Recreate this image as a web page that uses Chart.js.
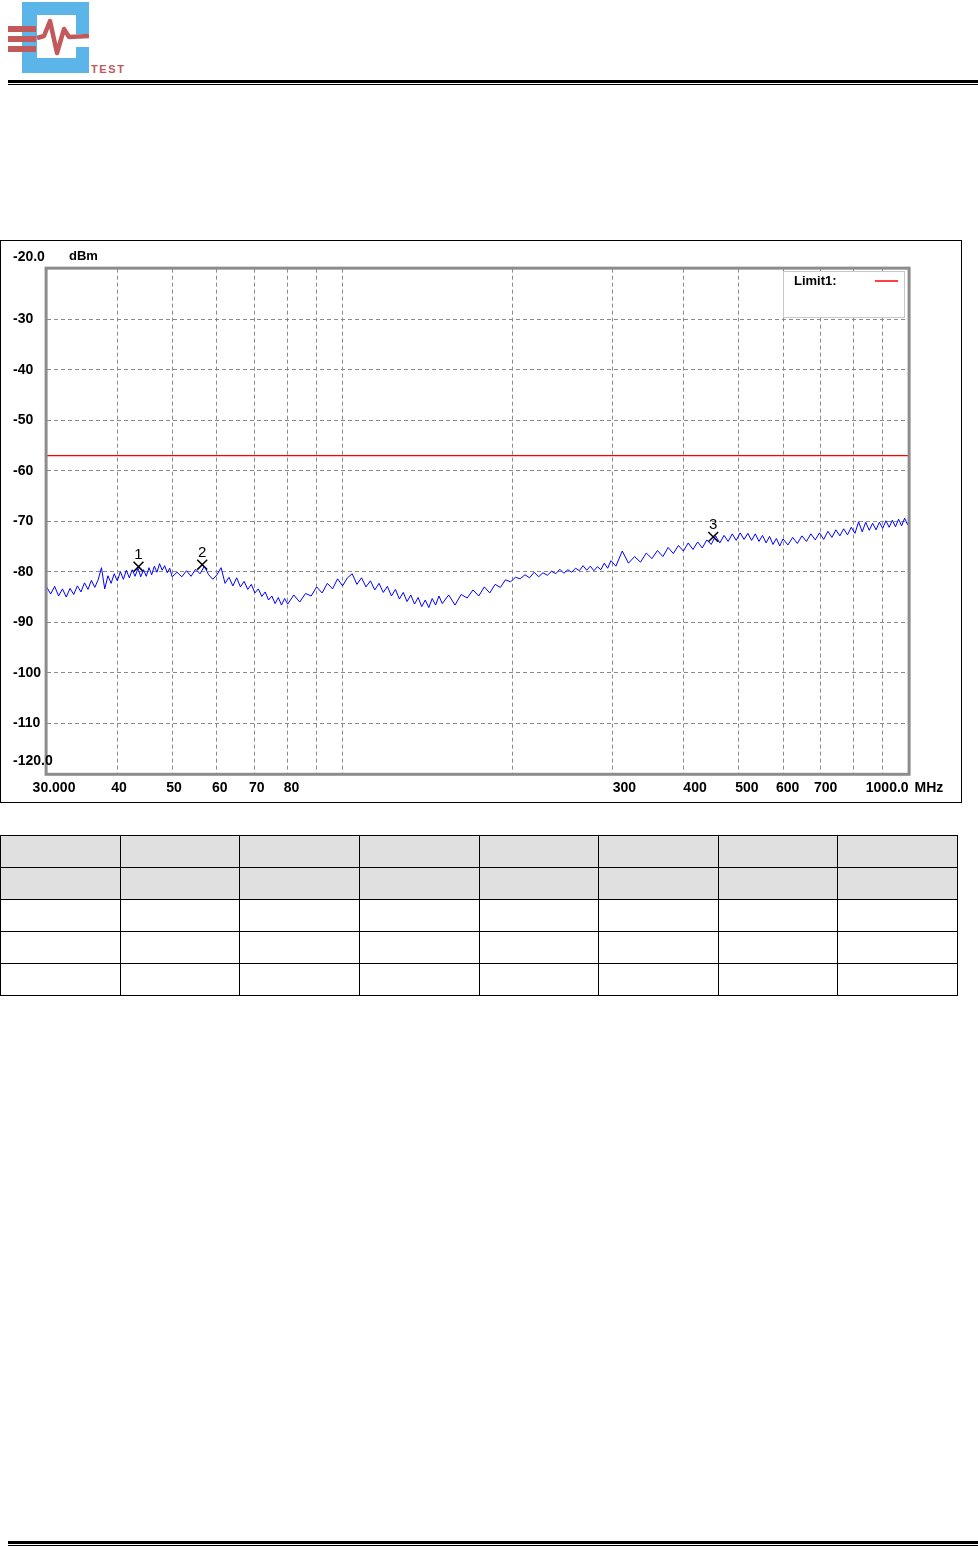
<!DOCTYPE html>
<html>
<head>
<meta charset="utf-8">
<script src="https://cdn.jsdelivr.net/npm/chart.js@4.4.0/dist/chart.umd.min.js"></script>
<style>
  body { margin: 0; width: 978px; height: 1547px; position: relative; background: #fff; overflow: hidden; font-family: "Liberation Sans", Arial, sans-serif; }
  .logo { position: absolute; left: 0; top: 0; }
  .rule { position: absolute; left: 8px; right: 0; background: #000; }
  .chart-box { position: absolute; left: 0; top: 240px; width: 962px; height: 563px; border: 1px solid #000; box-sizing: border-box; }
  .chart-box canvas { position: absolute; left: 0; top: 0; }
  table.result { position: absolute; left: 0; top: 835px; width: 958px; border-collapse: collapse; table-layout: fixed; }
  table.result td { border: 1px solid #000; height: 31px; padding: 0; }
  table.result tr.head td { background: #e0e0e0; }
</style>
</head>
<body>
<svg class="logo" width="140" height="80" viewBox="0 0 140 80">
  <path fill="#5bb5e8" d="M22 2 H89 V34 H76 V15 H37 V58 H76 V47 H89 V73 H22 Z"/>
  <rect x="8" y="26" width="28" height="6" fill="#c25a5c"/>
  <rect x="8" y="36" width="28" height="6" fill="#c25a5c"/>
  <rect x="8" y="46" width="28" height="6" fill="#c25a5c"/>
  <polyline points="37,38 44,36 50,21 57,53 64,29 69,37 89,36" fill="none" stroke="#c25a5c" stroke-width="4.5" stroke-linejoin="round"/>
  <text x="91" y="73" fill="#c25a5c" font-family="Liberation Sans, Arial" font-weight="bold" font-size="11" letter-spacing="1.6">TEST</text>
</svg>
<div class="rule" style="top:80px;height:3px"></div>
<div class="rule" style="top:84px;height:1px"></div>

<div class="chart-box">
  <canvas id="spectrum" width="960" height="561"></canvas>
</div>

<table class="result">
  <tr class="head"><td></td><td></td><td></td><td></td><td></td><td></td><td></td><td></td></tr>
  <tr class="head"><td></td><td></td><td></td><td></td><td></td><td></td><td></td><td></td></tr>
  <tr><td></td><td></td><td></td><td></td><td></td><td></td><td></td><td></td></tr>
  <tr><td></td><td></td><td></td><td></td><td></td><td></td><td></td><td></td></tr>
  <tr><td></td><td></td><td></td><td></td><td></td><td></td><td></td><td></td></tr>
</table>

<div class="rule" style="top:1541px;height:3px"></div>
<div class="rule" style="top:1545px;height:1px"></div>

<script>
// Частоты развертки, МГц
const freqMHz = [
  30, 30.5, 31, 31.5, 32, 32.5, 33, 33.5, 34, 34.5, 35, 35.5, 36, 36.5, 37, 37.5, 38, 38.5, 39, 39.5,
  40, 40.5, 41, 41.5, 42, 42.5, 43, 43.5, 44, 44.5, 45, 45.5, 46, 46.5, 47, 47.5, 48, 48.5, 49, 49.5, 50,
  51, 52, 53, 54, 55, 56, 57, 58, 59, 60, 61, 62, 63, 64, 65, 66, 67, 68, 69, 70,
  71, 72, 73, 74, 75, 76, 77, 78, 79, 80,
  82, 84, 86, 88, 90, 92, 94, 96, 98, 100, 102, 104, 106, 108, 110, 112, 114, 116, 118, 120,
  122, 124, 126, 128, 130, 132, 134, 136, 138, 140, 142, 144, 146, 148, 150,
  154, 158, 162, 166, 170, 174, 178, 182, 186, 190, 194, 198, 202, 206, 210, 214, 218, 222, 226, 230,
  234, 238, 242, 246, 250, 254, 258, 262, 266, 270, 274, 278, 282, 286, 290, 294, 298,
  304, 312, 320, 328, 336, 344, 352, 360, 368, 376, 384, 392, 400, 408, 416, 424, 432, 440, 448, 456,
  464, 472, 480, 488, 496, 504, 512, 520, 528, 536, 544, 552, 560, 568, 576, 584, 592, 600,
  612, 624, 636, 648, 660, 672, 684, 696, 708, 720, 732, 744, 756, 768, 780, 792, 804, 816, 828, 840,
  852, 864, 876, 888, 900, 912, 924, 936, 948, 960, 972, 984, 996, 1000
];

// Уровень сигнала, дБм
const levelDbm = [
  -83.0, -84.4, -82.9, -84.8, -83.4, -85.0, -83.3, -84.5, -82.8, -84.0, -82.2, -83.5, -81.7, -83.1, -81.6, -79.2, -83.4, -80.8, -82.3, -80.4,
  -81.8, -80.0, -81.5, -79.7, -81.2, -79.6, -80.9, -79.3, -81.0, -79.6, -80.9, -79.2, -80.6, -78.9, -80.1, -78.4, -79.7, -78.8, -80.2, -79.3, -81.0,
  -80.1, -81.0, -79.8, -80.9, -79.5, -80.4, -78.9, -80.6, -81.5, -80.6, -79.2, -82.3, -81.1, -82.8, -81.2, -83.0, -81.9, -83.5, -82.5, -84.2,
  -83.4, -84.9, -84.0, -85.6, -84.8, -86.3, -85.1, -86.6, -85.3, -86.4,
  -84.6, -86.0, -84.3, -84.8, -83.0, -84.2, -82.3, -83.4, -81.4, -82.8, -81.2, -80.4, -82.5, -81.2, -83.0, -81.8, -83.6, -82.3, -84.1, -82.9,
  -84.8, -83.5, -85.4, -84.1, -85.9, -84.6, -86.4, -85.1, -86.9, -85.6, -87.1, -85.3, -86.6, -84.8, -86.3,
  -84.6, -86.6, -84.5, -85.2, -83.6, -84.8, -83.0, -84.2, -82.5, -83.1, -81.6, -82.0, -81.1, -81.4, -80.6, -81.2, -80.1, -81.0, -80.2, -80.7,
  -79.9, -80.4, -79.5, -80.3, -79.6, -80.1, -79.3, -79.8, -78.8, -79.7, -78.9, -79.8, -79.0, -79.6, -78.3, -79.3, -77.8,
  -78.9, -75.9, -78.3, -77.0, -78.1, -76.3, -77.4, -75.8, -77.0, -75.2, -76.4, -74.8, -75.9, -74.3, -75.6, -74.1, -75.3, -73.7, -74.6, -72.9,
  -74.3, -72.8, -74.0, -72.5, -73.8, -72.3, -73.6, -72.4, -73.8, -72.5, -74.0, -72.8, -74.3, -73.0, -74.6, -73.4, -74.9, -73.5,
  -74.7, -73.2, -74.4, -72.9, -74.0, -72.5, -73.7, -72.3, -73.6, -72.0, -73.2, -71.7, -72.9, -71.5, -72.7, -71.2, -72.4, -70.1, -72.1, -70.2,
  -71.8, -70.4, -71.7, -70.2, -71.4, -69.9, -71.2, -69.8, -71.1, -69.6, -70.9, -69.4, -70.7, -69.9
];

// Линия предела Limit1
const limitFreq = [30, 1000];
const limitLevel = [-57, -57];

// Маркеры
const markerFreq = [43.6, 56.5, 451.7];
const markerLevel = [-79.0, -78.6, -73.1];
const markerNames = ["1", "2", "3"];

// Сетка и подписи осей
const xGridValues = [30, 40, 50, 60, 70, 80, 90, 100, 200, 300, 400, 500, 600, 700, 800, 900, 1000];
const xLabelValues = [30, 40, 50, 60, 70, 80, 300, 400, 500, 600, 700, 1000];
const xLabelTexts = ["30.000", "40", "50", "60", "70", "80", "300", "400", "500", "600", "700", "1000.0"];
const yLabelValues = [-20, -30, -40, -50, -60, -70, -80, -90, -100, -110, -120];
const yLabelTexts = ["-20.0", "-30", "-40", "-50", "-60", "-70", "-80", "-90", "-100", "-110", "-120.0"];

const toPoints = (xs, ys) => xs.map((x, i) => ({ x: x, y: ys[i] }));

// Рамка графика, подписи осей, легенда и номера маркеров
const analyzerFrame = {
  id: "analyzerFrame",
  afterDraw(chart) {
    const c = chart.ctx;
    const area = chart.chartArea;
    const xs = chart.scales.x;
    const ys = chart.scales.y;

    c.save();
    // рамка области построения
    c.strokeStyle = "#8c8c8c";
    c.lineWidth = 3;
    c.strokeRect(area.left - 0.5, area.top - 0.5, area.right - area.left + 1, area.bottom - area.top + 1);

    // легенда
    c.fillStyle = "#fff";
    c.fillRect(782, 30, 121, 46);
    c.strokeStyle = "#c8c8c8";
    c.lineWidth = 1;
    c.strokeRect(782.5, 30.5, 121, 46);
    c.fillStyle = "#000";
    c.font = "bold 13px 'Liberation Sans', Arial";
    c.textBaseline = "middle";
    c.textAlign = "left";
    c.fillText("Limit1:", 793, 40);
    c.strokeStyle = "#ff0000";
    c.lineWidth = 1.5;
    c.beginPath();
    c.moveTo(874, 40);
    c.lineTo(897, 40);
    c.stroke();

    // подписи оси Y
    c.font = "bold 14px 'Liberation Sans', Arial";
    yLabelValues.forEach((v, i) => {
      let y = ys.getPixelForValue(v);
      if (v === -20) y -= 12;
      if (v === -120) y -= 13;
      c.fillText(yLabelTexts[i], 12, y);
    });
    c.font = "bold 13px 'Liberation Sans', Arial";
    c.fillText("dBm", 68, ys.getPixelForValue(-20) - 12);

    // подписи оси X
    const xShift = { 30: -14, 40: -6, 50: -6, 60: -5, 70: -6, 80: -4, 300: 0, 400: 0, 500: -3, 600: -7, 700: -7 };
    c.font = "bold 14px 'Liberation Sans', Arial";
    const yText = area.bottom + 14;
    xLabelValues.forEach((v, i) => {
      const x = xs.getPixelForValue(v);
      if (v === 1000) {
        c.textAlign = "right";
        c.fillText(xLabelTexts[i], x, yText);
      } else {
        c.textAlign = "left";
        c.fillText(xLabelTexts[i], x + xShift[v], yText);
      }
    });
    c.textAlign = "left";
    c.fillText("MHz", area.right + 6, yText);

    // номера маркеров
    const meta = chart.getDatasetMeta(2);
    c.font = "15px 'Liberation Sans', Arial";
    c.textAlign = "center";
    meta.data.forEach((pt, i) => {
      c.fillText(markerNames[i], pt.x, pt.y - 12);
    });
    c.restore();
  },
};

function createSpectrumChart(canvasId) {
  const canvas = document.getElementById(canvasId);
  const ctx = canvas.getContext("2d");

  const gridStyle = { color: "#8a8a8a", lineWidth: 1, drawTicks: false };

  new Chart(ctx, {
    type: "scatter",
    data: {
      datasets: [
        {
          label: "Limit1",
          data: toPoints(limitFreq, limitLevel),
          showLine: true,
          borderColor: "#ff0000",
          borderWidth: 1.2,
          pointRadius: 0,
        },
        {
          label: "Trace",
          data: toPoints(freqMHz, levelDbm),
          showLine: true,
          borderColor: "#0000ff",
          borderWidth: 1,
          pointRadius: 0,
        },
        {
          label: "Markers",
          data: toPoints(markerFreq, markerLevel),
          showLine: false,
          pointStyle: "crossRot",
          pointRadius: 7,
          borderColor: "#000",
          borderWidth: 1.5,
        },
      ],
    },
    options: {
      responsive: false,
      animation: false,
      devicePixelRatio: 1,
      layout: {
        padding: { left: 45.6, top: 27.65, right: 52.4, bottom: 28.2 },
      },
      plugins: {
        legend: { display: false },
        tooltip: { enabled: false },
      },
      scales: {
        x: {
          type: "logarithmic",
          min: 30,
          max: 1000,
          afterBuildTicks: (scale) => {
            scale.ticks = xGridValues.map((v) => ({ value: v }));
          },
          ticks: { display: false },
          grid: gridStyle,
          border: { display: false, dash: [4, 3] },
        },
        y: {
          min: -120,
          max: -20,
          ticks: { display: false, stepSize: 10 },
          grid: gridStyle,
          border: { display: false, dash: [4, 3] },
        },
      },
    },
    plugins: [analyzerFrame],
  });
}

createSpectrumChart("spectrum");
</script>
</body>
</html>
